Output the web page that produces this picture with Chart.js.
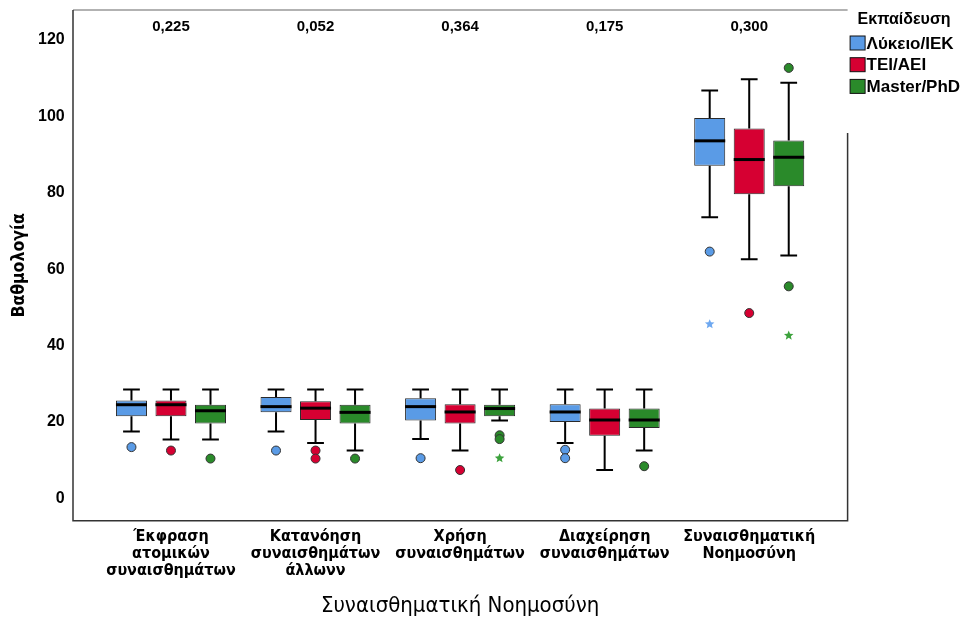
<!DOCTYPE html>
<html>
<head>
<meta charset="utf-8">
<script src="https://cdn.jsdelivr.net/npm/chart.js@4.4.1/dist/chart.umd.min.js"></script>
<style>
  body { margin: 0; background: #fff; }
</style>
</head>
<body>
<canvas id="myChart" width="963" height="626"></canvas>
<script>
// categories and p-values over each group
var categories = [
    ['Έκφραση', 'ατομικών', 'συναισθημάτων'],
    ['Κατανόηση', 'συναισθημάτων', 'άλλωνν'],
    ['Χρήση', 'συναισθημάτων'],
    ['Διαχείρηση', 'συναισθημάτων'],
    ['Συναισθηματική', 'Νοημοσύνη']
]
var pValues = ['0,225', '0,052', '0,364', '0,175', '0,300']
var yTicks = [0, 20, 40, 60, 80, 100, 120]

// Λύκειο/IEK
var lykMin = [17.5, 17.5, 15.5, 14.5, 73.6]
var lykQ1 = [21.5, 22.5, 20.4, 20.0, 87.1]
var lykMed = [24.5, 24.0, 24.0, 22.6, 93.6]
var lykQ3 = [25.6, 26.5, 26.2, 24.6, 99.6]
var lykMax = [28.5, 28.5, 28.5, 28.5, 106.8]
var lykOut = [[13.4], [12.5], [10.5], [12.7, 10.5], [64.6]]
var lykExt = [[], [], [], [], [45.6]]

// TEI/AEI
var teiMin = [15.4, 14.5, 12.5, 7.4, 62.6]
var teiQ1 = [21.5, 20.5, 19.6, 16.4, 79.6]
var teiMed = [24.5, 23.6, 22.6, 20.5, 88.7]
var teiQ3 = [25.6, 25.4, 24.6, 23.5, 96.8]
var teiMax = [28.5, 28.5, 28.5, 28.5, 109.7]
var teiOut = [[12.5], [12.5, 10.4], [7.4], [], [48.5]]
var teiExt = [[], [], [], [], []]

// Master/PhD
var mscMin = [15.4, 12.5, 20.4, 12.5, 63.6]
var mscQ1 = [19.6, 19.6, 21.5, 18.4, 81.7]
var mscMed = [22.9, 22.5, 23.5, 20.5, 89.3]
var mscQ3 = [24.5, 24.5, 24.5, 23.5, 93.7]
var mscMax = [28.5, 28.5, 28.5, 28.5, 108.8]
var mscOut = [[10.4], [10.4], [16.5, 15.5], [8.4], [112.7, 55.5]]
var mscExt = [[], [], [10.5], [], [42.6]]

var narrow = "'Liberation Sans Narrow', 'Arial Narrow', 'DejaVu Sans Condensed', sans-serif"
var arial = "'Liberation Sans', Arial, sans-serif"

function boxSet(label, color, starColor, min, q1, med, q3, max, out, ext) {
    return {
        label: label,
        data: q1.map((v, i) => [v, q3[i]]),
        backgroundColor: color,
        borderColor: '#2a2a2a',
        borderWidth: 1,
        borderSkipped: false,
        starColor: starColor,
        stats: { min: min, med: med, max: max, out: out, ext: ext }
    }
}

var data = {
    labels: categories,
    datasets: [
        boxSet('Λύκειο/IEK', '#5a9be6', '#6ea8f0', lykMin, lykQ1, lykMed, lykQ3, lykMax, lykOut, lykExt),
        boxSet('TEI/AEI', '#d60032', '#e0334f', teiMin, teiQ1, teiMed, teiQ3, teiMax, teiOut, teiExt),
        boxSet('Master/PhD', '#2a8a2a', '#3da23d', mscMin, mscQ1, mscMed, mscQ3, mscMax, mscOut, mscExt)
    ]
}

function star(ctx, x, y, r) {
    ctx.beginPath()
    for (var k = 0; k < 10; k++) {
        var rr = k % 2 == 0 ? r : r * 0.45
        var a = -Math.PI / 2 + k * Math.PI / 5
        ctx.lineTo(x + rr * Math.cos(a), y + rr * Math.sin(a))
    }
    ctx.closePath()
    ctx.fill()
}

// whiskers, medians, outliers
var boxExtras = {
    id: 'boxExtras',
    afterDatasetsDraw: function (chart) {
        var ctx = chart.ctx
        var ys = chart.scales.y
        ctx.save()
        chart.data.datasets.forEach((ds, di) => {
            var meta = chart.getDatasetMeta(di)
            var st = ds.stats
            meta.data.forEach((bar, i) => {
                var x = bar.x, w = bar.width
                var q1 = ys.getPixelForValue(ds.data[i][0])
                var q3 = ys.getPixelForValue(ds.data[i][1])
                var lo = ys.getPixelForValue(st.min[i])
                var hi = ys.getPixelForValue(st.max[i])
                ctx.strokeStyle = '#000'
                ctx.lineWidth = 2
                ctx.beginPath()
                ctx.moveTo(x, q3); ctx.lineTo(x, hi)
                ctx.moveTo(x, q1); ctx.lineTo(x, lo)
                ctx.moveTo(x - w * 0.27, hi); ctx.lineTo(x + w * 0.27, hi)
                ctx.moveTo(x - w * 0.27, lo); ctx.lineTo(x + w * 0.27, lo)
                ctx.stroke()
                var m = ys.getPixelForValue(st.med[i])
                ctx.lineWidth = 3
                ctx.beginPath()
                ctx.moveTo(x - w / 2, m); ctx.lineTo(x + w / 2, m)
                ctx.stroke()
                st.out[i].forEach((v) => {
                    ctx.beginPath()
                    ctx.arc(x, ys.getPixelForValue(v), 4.5, 0, Math.PI * 2)
                    ctx.fillStyle = ds.backgroundColor
                    ctx.fill()
                    ctx.lineWidth = 1
                    ctx.strokeStyle = '#333'
                    ctx.stroke()
                })
                ctx.fillStyle = ds.starColor
                st.ext[i].forEach((v) => {
                    star(ctx, x, ys.getPixelForValue(v), 5)
                })
            })
        })
        ctx.restore()
    }
}

// frame, p-values and legend
var decor = {
    id: 'decor',
    afterDraw: function (chart) {
        var ctx = chart.ctx
        var a = chart.chartArea
        var xs = chart.scales.x
        var L = a.left - 25.7, R = a.right + 26.1
        ctx.save()
        ctx.lineWidth = 1.5
        ctx.strokeStyle = '#999'
        ctx.beginPath()
        ctx.moveTo(L, a.top); ctx.lineTo(R, a.top)
        ctx.stroke()
        ctx.strokeStyle = '#333'
        ctx.beginPath()
        ctx.moveTo(L, a.top); ctx.lineTo(L, a.bottom); ctx.lineTo(R, a.bottom); ctx.lineTo(R, 133)
        ctx.stroke()

        ctx.fillStyle = '#000'
        ctx.font = 'bold 15px ' + arial
        ctx.textAlign = 'center'
        ctx.textBaseline = 'middle'
        pValues.forEach((p, i) => {
            ctx.fillText(p, xs.getPixelForValue(i), a.top + 17)
        })

        // legend
        ctx.textAlign = 'left'
        ctx.font = 'bold 16px ' + arial
        ctx.fillText('Εκπαίδευση', R + 10, 20)
        ctx.font = 'bold 17px ' + arial
        chart.data.datasets.forEach((ds, i) => {
            var cy = 43 + i * 21.7
            ctx.fillStyle = ds.backgroundColor
            ctx.fillRect(R + 2.5, cy - 7, 15, 14)
            ctx.lineWidth = 1
            ctx.strokeStyle = '#111'
            ctx.strokeRect(R + 2.5, cy - 7, 15, 14)
            ctx.fillStyle = '#000'
            ctx.fillText(ds.label, R + 19, cy + 1)
        })
        ctx.restore()
    }
}

var options = {
    responsive: false,
    animation: false,
    devicePixelRatio: 1,
    layout: {
        padding: { top: 10, right: 141.5, left: 0, bottom: 0 }
    },
    datasets: {
        bar: {
            categoryPercentage: 0.82,
            barPercentage: 0.785
        }
    },
    scales: {
        x: {
            grid: { display: false, drawTicks: false },
            border: { display: false },
            afterFit: function (scale) { scale.height = 105.3 },
            ticks: {
                color: '#000',
                padding: 8,
                maxRotation: 0,
                autoSkip: false,
                font: { family: narrow, size: 16, weight: 'bold', lineHeight: 1.06 }
            },
            title: {
                display: true,
                text: 'Συναισθηματική Νοημοσύνη',
                color: '#000',
                padding: { top: 0, bottom: 7 },
                font: { family: narrow, size: 22, lineHeight: 1.2 }
            }
        },
        y: {
            min: -5.87,
            max: 127.86,
            grid: { display: false, drawTicks: false },
            border: { display: false },
            afterBuildTicks: function (scale) {
                scale.ticks = yTicks.map((v) => ({ value: v }))
            },
            afterFit: function (scale) {
                scale.width = 98.7
                scale.paddingTop = 0
                scale.paddingBottom = 0
            },
            ticks: {
                color: '#000',
                padding: 34,
                font: { family: arial, size: 16, weight: 'bold' }
            },
            title: {
                display: true,
                text: 'Βαθμολογία',
                color: '#000',
                padding: { top: 9, bottom: 0 },
                font: { family: narrow, size: 17.5, weight: 'bold', lineHeight: 1.2 }
            }
        }
    },
    plugins: {
        legend: { display: false },
        tooltip: { enabled: false }
    }
}

var ctx = document.getElementById('myChart').getContext('2d')
var myChart = new Chart(ctx, {
    type: 'bar',
    data: data,
    options: options,
    plugins: [boxExtras, decor]
})
</script>
</body>
</html>
